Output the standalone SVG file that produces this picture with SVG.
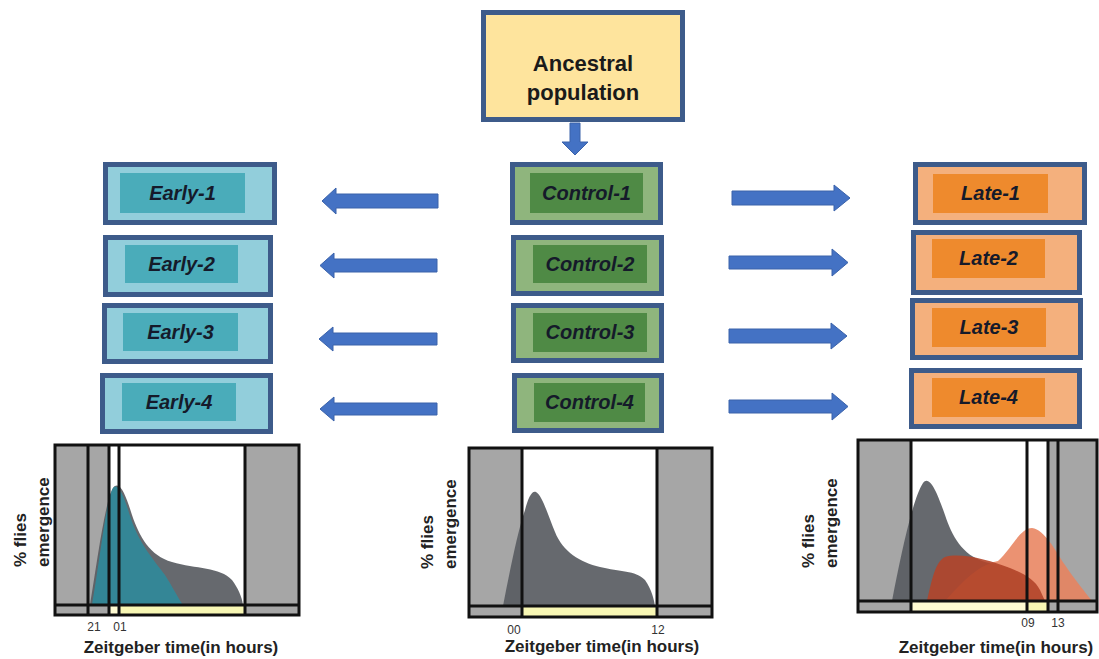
<svg xmlns="http://www.w3.org/2000/svg" width="1099" height="659" viewBox="0 0 1099 659">
<style>
.box{stroke:#3d5b8a;stroke-width:5}
.early{fill:#92cedb}.early-in{fill:#4aacba}
.ctrl{fill:#8fb57d}.ctrl-in{fill:#4f8a45}
.late{fill:#f4b07d}.late-in{fill:#ee8a2d}
.lbl{font-family:"Liberation Sans",Arial,sans-serif;font-weight:bold;font-style:italic;font-size:20px;fill:#151a2a;text-anchor:middle}
.anc{font-family:"Liberation Sans",Arial,sans-serif;font-weight:bold;font-size:22px;fill:#1a1a1a;text-anchor:middle}
.arrow{fill:#4472c4;stroke:#3a62aa;stroke-width:1}
.gray{fill:#a6a6a6}
.ly{fill:#fffbd2}.yl{fill:#f8f7b4}
.ln{stroke:#111;stroke-width:3;fill:none}
.ylab{font-family:"Liberation Sans",Arial,sans-serif;font-weight:bold;font-size:17px;fill:#222}
.tick{font-family:"Liberation Sans",Arial,sans-serif;font-size:12px;fill:#333;text-anchor:middle}
.xt{font-family:"Liberation Sans",Arial,sans-serif;font-weight:bold;font-size:17px;fill:#222;text-anchor:middle}
</style>

<g id="ancestral">
<rect x="483.5" y="12.5" width="199" height="107" fill="#fee49d" class="box"/>
<text x="583" y="71" class="anc">Ancestral</text>
<text x="583" y="100" class="anc">population</text>
</g>

<g id="early-1"><rect x="105.5" y="164.5" width="169" height="58" class="box early"/><rect x="120" y="173" width="125" height="40" class="early-in"/><text x="182.5" y="200" class="lbl">Early-1</text></g>
<g id="early-2"><rect x="105.5" y="237.5" width="165" height="57" class="box early"/><rect x="125" y="245" width="113" height="38" class="early-in"/><text x="181.5" y="271" class="lbl">Early-2</text></g>
<g id="early-3"><rect x="104.5" y="305.5" width="166" height="56" class="box early"/><rect x="123" y="313" width="115" height="38" class="early-in"/><text x="180.5" y="339" class="lbl">Early-3</text></g>
<g id="early-4"><rect x="102.5" y="375.5" width="168" height="56" class="box early"/><rect x="122" y="383" width="114" height="38" class="early-in"/><text x="179" y="409" class="lbl">Early-4</text></g>

<g id="control-1"><rect x="512.5" y="164.5" width="148" height="58" class="box ctrl"/><rect x="530" y="173" width="113" height="40" class="ctrl-in"/><text x="586.5" y="200" class="lbl">Control-1</text></g>
<g id="control-2"><rect x="513.5" y="237.5" width="148" height="56" class="box ctrl"/><rect x="533" y="245" width="114" height="38" class="ctrl-in"/><text x="590" y="271" class="lbl">Control-2</text></g>
<g id="control-3"><rect x="513.5" y="305.5" width="148" height="55" class="box ctrl"/><rect x="533" y="313" width="114" height="39" class="ctrl-in"/><text x="590" y="339" class="lbl">Control-3</text></g>
<g id="control-4"><rect x="514.5" y="375.5" width="147" height="55" class="box ctrl"/><rect x="534" y="383" width="111" height="39" class="ctrl-in"/><text x="589.5" y="409" class="lbl">Control-4</text></g>

<g id="late-1"><rect x="915.5" y="164.5" width="169" height="58" class="box late"/><rect x="933" y="174" width="115" height="39" class="late-in"/><text x="990.5" y="200" class="lbl">Late-1</text></g>
<g id="late-2"><rect x="913.5" y="232.5" width="166" height="60" class="box late"/><rect x="932" y="239" width="113" height="39" class="late-in"/><text x="988.5" y="265" class="lbl">Late-2</text></g>
<g id="late-3"><rect x="912.5" y="300.5" width="168" height="57" class="box late"/><rect x="932" y="308" width="114" height="39" class="late-in"/><text x="989" y="334" class="lbl">Late-3</text></g>
<g id="late-4"><rect x="911.5" y="370.5" width="168" height="56" class="box late"/><rect x="932" y="378" width="113" height="39" class="late-in"/><text x="988.5" y="404" class="lbl">Late-4</text></g>

<g id="connectors">
<polygon class="arrow" points="570,123 580,123 580,142 588,142 575,155 562,142 570,142"/>
<polygon class="arrow" points="438,194 336,194 336,188 322,201 336,214 336,208 438,208"/>
<polygon class="arrow" points="437,259 334,259 334,253 320,265.5 334,278 334,272 437,272"/>
<polygon class="arrow" points="437,333 333,333 333,327 319,339 333,351 333,345 437,345"/>
<polygon class="arrow" points="437,403 334,403 334,397 320,409 334,421 334,415 437,415"/>
<polygon class="arrow" points="732,191 834,191 834,185 850,198 834,211 834,205 732,205"/>
<polygon class="arrow" points="729,256 832,256 832,249 848,262.5 832,276 832,269 729,269"/>
<polygon class="arrow" points="729,329 831,329 831,323 847,336 831,349 831,343 729,343"/>
<polygon class="arrow" points="729,400 832,400 832,393 848,406.5 832,420 832,413 729,413"/>
</g>

<g id="chart-early">
<rect x="55" y="445" width="55" height="170" class="gray"/>
<rect x="110" y="445" width="135" height="160" fill="#fff"/>
<rect x="245" y="445" width="54" height="170" class="gray"/>
<rect x="109" y="605" width="10" height="10" class="ly"/>
<rect x="119" y="605" width="126" height="10" class="yl"/>
<path d="M90,605 C96,570 105,500 113,488 C120,479 126,496 132,515 C139,536 150,556 172,562 C196,569 220,567 232,580 C238,588 242,597 243,605 Z" fill="#595c62" opacity="0.92"/>
<path d="M92,605 C100,560 106,500 113,488 C118,482 124,496 130,516 C139,544 154,560 165,575 C172,586 178,598 183,605 Z" fill="#2c8c9d" opacity="0.85"/>
<path d="M88,445 V615 M109,445 V615 M119,445 V615 M245,445 V615 M55,605 H299" class="ln"/>
<rect x="55" y="445" width="244" height="170" class="ln"/>
<text transform="translate(26,567) rotate(-90)" class="ylab">% flies</text>
<text transform="translate(49,567) rotate(-90)" class="ylab">emergence</text>
<text x="94" y="631" class="tick">21</text>
<text x="120" y="631" class="tick">01</text>
<text x="181" y="653" class="xt">Zeitgeber time(in hours)</text>
</g>

<g id="chart-control">
<rect x="469" y="448" width="53" height="169" class="gray"/>
<rect x="522" y="448" width="135" height="158" fill="#fff"/>
<rect x="657" y="448" width="55" height="169" class="gray"/>
<rect x="522" y="606" width="135" height="11" class="yl"/>
<path d="M503,606 C510,570 518,530 525,510 C528,498 532,490 536,492 C542,495 548,515 555,532 C563,552 580,562 600,567 C620,572 635,570 645,580 C652,590 654,600 655,606 Z" fill="#595c62" opacity="0.92"/>
<path d="M522,448 V617 M657,448 V617 M469,606 H712" class="ln"/>
<rect x="469" y="448" width="243" height="169" class="ln"/>
<text transform="translate(433,569) rotate(-90)" class="ylab">% flies</text>
<text transform="translate(456,569) rotate(-90)" class="ylab">emergence</text>
<text x="514" y="634" class="tick">00</text>
<text x="658" y="634" class="tick">12</text>
<text x="602" y="652" class="xt">Zeitgeber time(in hours)</text>
</g>

<g id="chart-late">
<rect x="858" y="440" width="53" height="172" class="gray"/>
<rect x="911" y="440" width="137" height="161" fill="#fff"/>
<rect x="1048" y="440" width="49" height="172" class="gray"/>
<rect x="911" y="601" width="116" height="11" class="ly"/>
<rect x="1027" y="601" width="20" height="11" class="yl"/>
<path d="M892,601 C900,560 912,500 923,483 C930,474 938,495 945,515 C952,536 962,555 985,562 C1000,566 1010,566 1020,575 L1030,601 Z" fill="#595c62" opacity="0.92"/>
<path d="M945,601 C960,585 975,566 998,561 C1012,548 1020,528 1032,528 C1045,530 1055,550 1065,565 C1075,580 1085,592 1092,601 Z" fill="#e8835f" opacity="0.88"/>
<path d="M927,601 C932,580 935,562 945,557 C960,552 990,560 1010,568 C1025,574 1035,580 1040,590 L1045,601 Z" fill="#b3452a" opacity="0.9"/>
<path d="M911,440 V612 M1027,440 V612 M1048,440 V612 M1058,440 V612 M858,601 H1097" class="ln"/>
<rect x="858" y="440" width="239" height="172" class="ln"/>
<text transform="translate(814,568) rotate(-90)" class="ylab">% flies</text>
<text transform="translate(837,568) rotate(-90)" class="ylab">emergence</text>
<text x="1028" y="627" class="tick">09</text>
<text x="1058" y="627" class="tick">13</text>
<text x="996" y="653" class="xt">Zeitgeber time(in hours)</text>
</g>
</svg>
